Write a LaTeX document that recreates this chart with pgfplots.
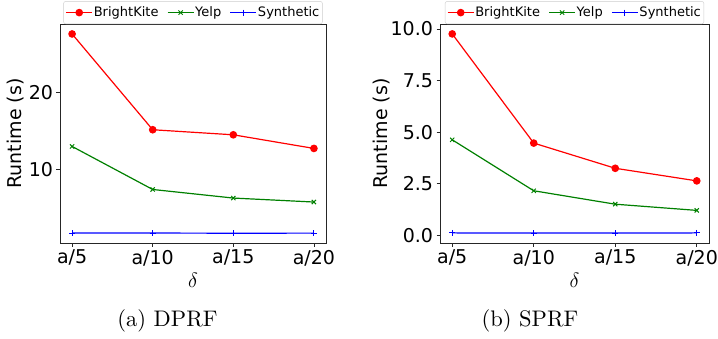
\documentclass[border=0pt]{standalone}
\usepackage{fontspec}
\usepackage{pgfplots}
\pgfplotsset{compat=1.18}
\newfontfamily\dejavu{DejaVu Sans}
\newfontfamily\capfont{lmroman10-regular}[Extension=.otf]
\definecolor{mred}{RGB}{255,0,0}
\definecolor{mgreen}{RGB}{0,128,0}
\definecolor{mblue}{RGB}{0,0,255}
\pgfplotsset{
  myaxis/.style={
    scale only axis,
    width=266pt, height=219pt,
    xmin=-0.15, xmax=3.15,
    xtick={0,1,2,3},
    xticklabels={a/5,a/10,a/15,a/20},
    tick pos=left,
    tick align=outside,
    major tick length=3.5pt,
    axis line style={line width=0.8pt, black!85},
    major tick style={line width=0.8pt, black!85},
    /pgf/number format/assume math mode=true,
    tick label style={font=\dejavu\fontsize{19}{21}\selectfont},
    label style={font=\dejavu\fontsize{19}{21}\selectfont},
    xlabel={\fontsize{22}{24}\selectfont$\delta$},
    ylabel={Runtime (s)},
    xlabel style={at={(axis description cs:0.5,-0.17)}, anchor=center},
    legend columns=3,
    legend style={
      at={(0.5,1)}, anchor=south,
      draw=black!20, rounded corners=2pt, fill=white,
      font=\dejavu\fontsize{13}{15}\selectfont,
      inner xsep=2pt, inner ysep=3pt,
      nodes={inner xsep=1pt, inner ysep=2.5pt},
      /tikz/every even column/.append style={column sep=7.5pt},
    },
    legend cell align=left,
    legend image code/.code={
      \draw[mark repeat=2,mark phase=2] plot coordinates {(0pt,0pt) (13pt,0pt) (26pt,0pt)};
    },
  },
  bk/.style={color=mred, line width=1.2pt, mark=*, mark size=3.2pt, mark options={solid, fill=mred, draw=mred}},
  yp/.style={color=mgreen, line width=1.2pt, mark=x, mark size=3pt, mark options={solid, line width=1pt}},
  sy/.style={color=mblue, line width=1.2pt, mark=+, mark size=3pt, mark options={solid, line width=1pt}},
}
\begin{document}
\begin{tikzpicture}
\path[use as bounding box] (0pt,0pt) rectangle (718pt,338pt);
\begin{axis}[myaxis,
  at={(60pt,95pt)}, anchor=south west,
  ymin=0.35, ymax=28.95,
  ytick={10,20},
  ylabel style={at={(axis description cs:-0.169,0.5)}, anchor=center},
]
\addplot[bk] coordinates {(0,27.65) (1,15.14) (2,14.48) (3,12.70)};
\addlegendentry{BrightKite}
\addplot[yp] coordinates {(0,12.96) (1,7.34) (2,6.22) (3,5.70)};
\addlegendentry{Yelp}
\addplot[sy] coordinates {(0,1.65) (1,1.65) (2,1.63) (3,1.64)};
\addlegendentry{Synthetic}
\end{axis}
\begin{axis}[myaxis,
  at={(440pt,95pt)}, anchor=south west, width=269pt,
  ymin=-0.37, ymax=10.24,
  ytick={0,2.5,5,7.5,10},
  yticklabel style={/pgf/number format/.cd, fixed, fixed zerofill, precision=1},
  ylabel style={at={(axis description cs:-0.219,0.5)}, anchor=center},
]
\addplot[bk] coordinates {(0,9.76) (1,4.47) (2,3.25) (3,2.64)};
\addlegendentry{BrightKite}
\addplot[yp] coordinates {(0,4.63) (1,2.16) (2,1.51) (3,1.21)};
\addlegendentry{Yelp}
\addplot[sy] coordinates {(0,0.12) (1,0.11) (2,0.11) (3,0.12)};
\addlegendentry{Synthetic}
\end{axis}
\node[font=\capfont\fontsize{22.5}{26}\selectfont] at (167.5pt,17pt) {(a) DPRF};
\node[font=\capfont\fontsize{22.5}{26}\selectfont] at (530pt,17pt) {(b) SPRF};
\end{tikzpicture}
\end{document}
